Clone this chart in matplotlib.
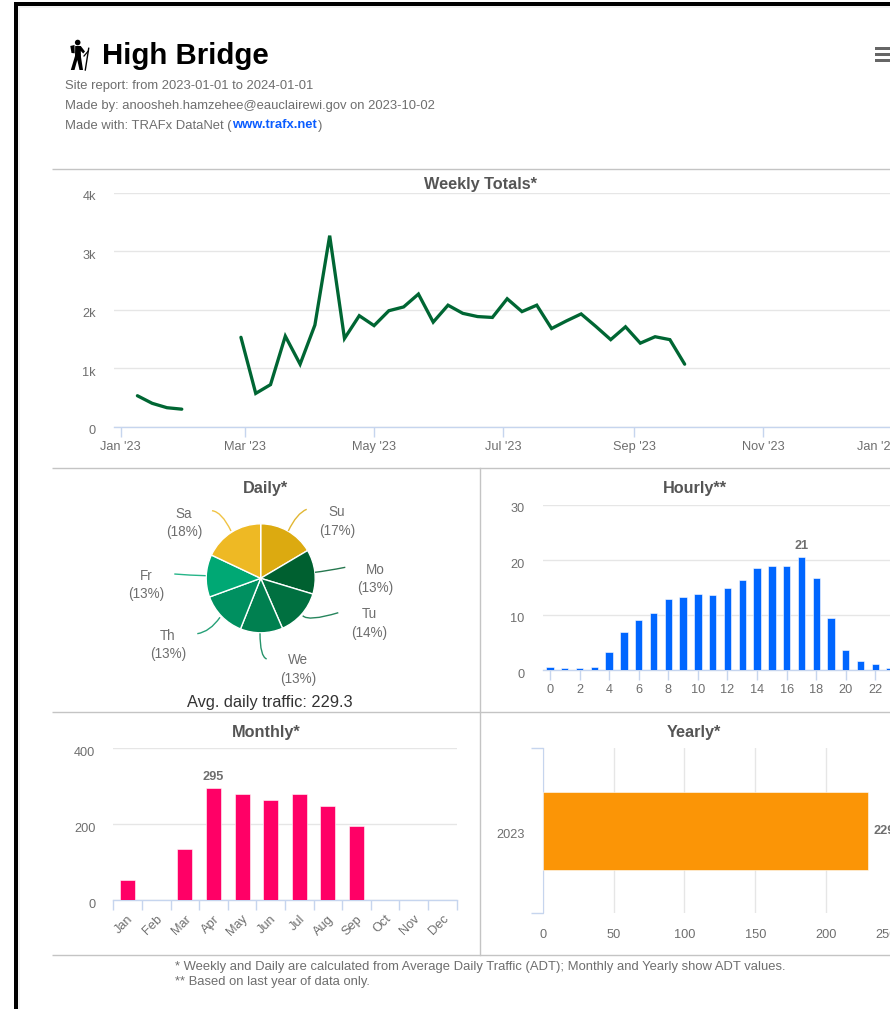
import datetime as dt
import numpy as np
import matplotlib
matplotlib.use("Agg")
import matplotlib.pyplot as plt
import matplotlib.dates as mdates
from matplotlib.patches import Rectangle, Polygon, Circle, PathPatch
from matplotlib.path import Path
from matplotlib.transforms import ScaledTranslation

plt.rcParams['font.family'] = ['Liberation Sans', 'DejaVu Sans']

# ---------- data ----------
week_start = dt.date(2023, 1, 9)
weekly_totals = [530, 400, 325, 300, np.nan, np.nan, np.nan,
                 1530, 570, 720, 1550, 1070, 1740, 3270, 1510, 1900, 1730,
                 1985, 2050, 2270, 1790, 2080, 1940, 1885, 1870, 2190, 1970,
                 2080, 1680, 1810, 1930, 1715, 1490, 1710, 1430, 1540, 1490, 1070]
weekly_ticks = [dt.date(2023, 1, 1), dt.date(2023, 3, 1), dt.date(2023, 5, 1), dt.date(2023, 7, 1),
                dt.date(2023, 9, 1), dt.date(2023, 11, 1), dt.date(2024, 1, 1)]
weekly_yticks = [0, 1000, 2000, 3000, 4000]
weekly_ylabels = ['0', '1k', '2k', '3k', '4k']

days = ['Su', 'Mo', 'Tu', 'We', 'Th', 'Fr', 'Sa']
day_share = [16.5, 13.2, 13.8, 12.6, 13.4, 12.6, 18.0]
day_labels = ['17%', '13%', '14%', '13%', '13%', '13%', '18%']
avg_daily = 229.3

hours = list(range(24))
hourly = [0.55, 0.35, 0.35, 0.55, 3.25, 6.9, 9.1, 10.4, 12.9, 13.2, 13.9, 13.6,
          15.0, 16.3, 18.5, 19.0, 19.0, 20.55, 16.75, 9.5, 3.7, 1.65, 1.05, 0.4]
hourly_peak_label = '21'

months = ['Jan', 'Feb', 'Mar', 'Apr', 'May', 'Jun', 'Jul', 'Aug', 'Sep', 'Oct', 'Nov', 'Dec']
monthly = [53, 0, 136, 295, 279, 263, 279, 247, 195, 0, 0, 0]

years = ['2023']
yearly = [229.3]

# ---------- layout ----------
W, H = 890, 1009
GRID = '#e6e6e6'
AXIS = '#c6d5ee'
TXT = '#6e6e6e'
PX = 0.72  # points per pixel at 100 dpi
BODY = 13
TICK = 12.7
GREEN = '#006633'
BLUE = '#0066ff'
PINK = '#ff0066'
ORANGE = '#fb9506'
PIE_COLORS = ['#dcaa10', '#006030', '#007040', '#008050', '#009060', '#00a874', '#eeb924']

fig = plt.figure(figsize=(W / 100, H / 100), dpi=100, facecolor='white')


def axpx(l, t, r, b):
    ax = fig.add_axes([l / W, 1 - b / H, (r - l) / W, (b - t) / H])
    ax.patch.set_alpha(0)
    for s in ax.spines.values():
        s.set_visible(False)
    return ax


def shift(labels, dx=0, dy=0):
    off = ScaledTranslation(dx / 100, -dy / 100, fig.dpi_scale_trans)
    for lb in labels:
        lb.set_transform(lb.get_transform() + off)


def style_y(ax, ticks, labels=None):
    ax.set_yticks(ticks)
    if labels:
        ax.set_yticklabels(labels)
    ax.tick_params(axis='y', length=0, pad=18 * PX, labelsize=TICK * PX, labelcolor=TXT)
    ax.grid(axis='y', color=GRID, lw=1)
    ax.set_axisbelow(True)
    shift(ax.get_yticklabels(), dy=3)


def style_xbase(ax):
    ax.spines['bottom'].set_visible(True)
    ax.spines['bottom'].set_color(AXIS)
    ax.spines['bottom'].set_linewidth(1)
    ax.tick_params(axis='x', length=10 * PX, width=1, color=AXIS, pad=4 * PX,
                   labelsize=TICK * PX, labelcolor=TXT)


# Weekly
PXDAY = 2.113
jan1 = mdates.date2num(dt.date(2023, 1, 1))
ax = axpx(114, 193, 900, 426.7)
week_dates = [week_start + dt.timedelta(days=7 * i) for i in range(len(weekly_totals))]
ax.plot(week_dates, weekly_totals, color=GREEN, lw=3 * PX + 0.2, solid_joinstyle='miter',
        solid_capstyle='round')
ax.set_xlim(jan1 - (120.5 - 114) / PXDAY, jan1 + (900 - 120.5) / PXDAY)
ax.set_ylim(0, 4000)
ax.set_xticks(weekly_ticks)
ax.set_xticklabels([d.strftime("%b '%y") for d in weekly_ticks])
style_y(ax, weekly_yticks, weekly_ylabels)
style_xbase(ax)
shift(ax.get_xticklabels()[-1:], dx=-14)

# Daily pie
r_px = 54.5 * 1.02
ax = axpx(260.7 - r_px, 578.3 - r_px, 260.7 + r_px, 578.3 + r_px)
ax.pie(day_share, colors=PIE_COLORS, startangle=90, counterclock=False, radius=1,
       wedgeprops=dict(edgecolor='white', linewidth=1.0))
ax.set_xlim(-1.02, 1.02)
ax.set_ylim(-1.02, 1.02)
ax.set_aspect('equal')

# Hourly
ax = axpx(542.6, 505, 900, 670)
ax.bar(hours, hourly, width=0.5, color=BLUE, edgecolor='white', linewidth=0.4, zorder=3)
ax.set_xlim(-0.5, -0.5 + (900 - 542.6) / 14.79)
ax.set_ylim(0, 30)
ax.set_xticks(hours[::2])
style_y(ax, [0, 10, 20, 30])
style_xbase(ax)
ipk = int(np.argmax(hourly))
ax.annotate(hourly_peak_label, (hours[ipk], hourly[ipk]), xytext=(0, 5 * PX), textcoords='offset points',
            ha='center', va='bottom', fontsize=TICK * PX, fontweight='bold', color=TXT)

# Monthly
ax = axpx(113.3, 748.3, 456.7, 900.3)
xs = np.arange(len(months))
ax.bar(xs, monthly, width=0.52, color=PINK, edgecolor='white', linewidth=0.4, zorder=3)
ax.set_xlim(-0.5, 11.5)
ax.set_ylim(0, 400)
ax.set_xticks(np.arange(-0.5, 12, 1))
ax.set_xticklabels([])
style_y(ax, [0, 200, 400])
style_xbase(ax)
ax.set_xticks(xs, minor=True)
ax.set_xticklabels(months, minor=True, rotation=45, ha='right', va='center', rotation_mode='anchor')
ax.tick_params(axis='x', which='minor', length=0, pad=12 * PX, labelsize=TICK * PX, labelcolor=TXT)
shift(ax.get_xticklabels(minor=True), dx=4, dy=5)
ipk = int(np.argmax(monthly))
ax.annotate(str(monthly[ipk]), (xs[ipk], monthly[ipk]), xytext=(0, 5 * PX), textcoords='offset points',
            ha='center', va='bottom', fontsize=TICK * PX, fontweight='bold', color=TXT)

# Yearly
ax = axpx(542.7, 748.3, 900, 913.3)
ax.barh([0], yearly, height=0.476, color=ORANGE, edgecolor='white', linewidth=0.4, zorder=3)
ax.set_xlim(0, (900 - 542.7) / 1.417)
ax.set_ylim(-0.5, 0.5)
ax.set_xticks([0, 50, 100, 150, 200, 250])
ax.grid(axis='x', color=GRID, lw=1)
ax.set_axisbelow(True)
ax.tick_params(axis='x', length=0, pad=15.5 * PX, labelsize=TICK * PX, labelcolor=TXT)
shift(ax.get_xticklabels()[-1:], dx=-11)
ax.spines['left'].set_visible(True)
ax.spines['left'].set_color(AXIS)
ax.set_yticks([-0.5, 0.5])
ax.set_yticklabels([])
ax.tick_params(axis='y', length=12 * PX, width=1, color=AXIS)
ax.set_yticks([0], minor=True)
ax.set_yticklabels(years, minor=True)
ax.tick_params(axis='y', which='minor', length=0, pad=18.4 * PX, labelsize=TICK * PX, labelcolor=TXT)
shift(ax.get_yticklabels(minor=True), dy=3)
ax.annotate(f'{yearly[0]:.0f}', (yearly[0], 0), xytext=(6 * PX, 0), textcoords='offset points',
            ha='left', va='center', fontsize=TICK * PX, fontweight='bold', color=TXT)

# ---------- page layer in pixel coordinates ----------
page = fig.add_axes([0, 0, 1, 1], zorder=10)
page.set_xlim(0, W)
page.set_ylim(H, 0)
page.axis('off')


def t(x, y, s, px=BODY, color=TXT, weight='normal', ha='left'):
    page.text(x, y, s, fontsize=px * PX, color=color, fontweight=weight, ha=ha, va='center')


def hline(y, x0, x1, c='#c4c4c4'):
    page.plot([x0, x1], [y, y], color=c, lw=1, solid_capstyle='butt')


# window border
page.add_patch(Rectangle((14, 2), W, 4, color='black', lw=0))
page.add_patch(Rectangle((14, 2), 3.5, H, color='black', lw=0))
page.add_patch(Rectangle((17.5, 6), 2, H, color='#f3f3f3', lw=0))
page.add_patch(Rectangle((17.5, 6), W, 1.5, color='#f3f3f3', lw=0))

# separators
for y in (169, 468, 712, 955):
    hline(y, 52, 890)
page.plot([480, 480], [468, 955], color='#c4c4c4', lw=1)

# header
t(102, 56.5, 'High Bridge', px=29.4, color='black', weight='bold')
t(65, 86, 'Site report: from 2023-01-01 to 2024-01-01')
t(65, 105.5, 'Made by: anoosheh.hamzehee@eauclairewi.gov on 2023-10-02')
t(65, 125.5, 'Made with: TRAFx DataNet (')
t(232, 125.5, 'www.trafx.net', color='#0a5cff', weight='bold')
t(317.5, 125.5, ')')

# hiker icon
page.add_patch(Circle((77.7, 42.5), 2.8, color='black', lw=0))
page.add_patch(Polygon([(70.3, 46), (74.5, 45), (74.7, 53.3), (71.5, 53)], color='black', lw=0))
page.add_patch(Polygon([(75.2, 46), (80.8, 46), (85, 51.5), (83.2, 53.5), (80.8, 51), (81, 57),
                        (83, 70), (79.5, 70), (77.3, 60), (74.5, 70), (70.8, 70), (75, 56)],
                       color='black', lw=0))
page.plot([88.7, 85.3], [48.3, 70], color='black', lw=1)
page.plot([84, 88.3], [56, 51], color='black', lw=0.9)

# menu icon
for y in (47, 52.8, 58.6):
    page.add_patch(Rectangle((875, y), 16, 3.4, color='#666666', lw=0))

# panel titles
TITLE = '#555555'
TS = 16.3
t(481, 184, 'Weekly Totals*', px=TS, color=TITLE, weight='bold', ha='center')
t(266, 488.5, 'Daily*', px=TS, color=TITLE, weight='bold', ha='center')
t(695, 488.5, 'Hourly**', px=TS, color=TITLE, weight='bold', ha='center')
t(266, 732.5, 'Monthly*', px=TS, color=TITLE, weight='bold', ha='center')
t(694, 732.5, 'Yearly*', px=TS, color=TITLE, weight='bold', ha='center')

# pie labels
label_pos = [(337, 512.5), (375, 569.5), (369, 614.5), (298, 660.5), (168, 635.5), (146, 575.5), (184, 513.5)]
for name, pct, (x, y) in zip(days, day_labels, label_pos):
    t(x, y, name, px=13.5, ha='center')
    t(x, y + 18.7, f'({pct})', px=13.5, ha='center')

# pie connectors
conn = [[(288.3, 531), (296.7, 513.3), (306.7, 509.3)],
        [(315, 572.3), (326.7, 571), (345.3, 567.3)],
        [(302.7, 615.7), (308.3, 621.7), (338.3, 612.7)],
        [(260, 633.3), (260, 656.7), (266.7, 659)],
        [(220, 617.3), (210, 631.7), (197.3, 633.7)],
        [(205.7, 575.7), (190, 575.3), (174.3, 574)],
        [(231, 531), (221.7, 511.7), (212, 510.7)]]
for pts, col in zip(conn, PIE_COLORS):
    page.add_patch(PathPatch(Path(pts, [Path.MOVETO, Path.CURVE3, Path.CURVE3]),
                             fill=False, edgecolor=col, lw=1, alpha=0.85))

t(269.5, 702.5, f'Avg. daily traffic: {avg_daily}', px=16.4, color='#333333', ha='center')

# footnotes
t(175, 967, '* Weekly and Daily are calculated from Average Daily Traffic (ADT); Monthly and Yearly show ADT values.')
t(175, 981.5, '** Based on last year of data only.')

fig.savefig('out.png', dpi=100, facecolor='white')
